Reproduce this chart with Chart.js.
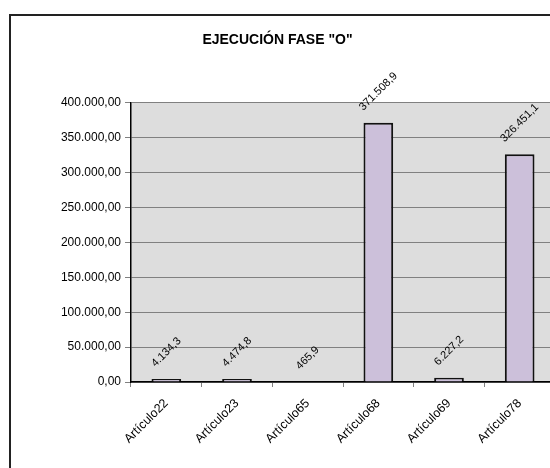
<!DOCTYPE html>
<html>
<head>
<meta charset="utf-8">
<script src="https://cdn.jsdelivr.net/npm/chart.js@4"></script>
<style>
  html, body { margin: 0; padding: 0; background: #fff; overflow: hidden; }
  canvas { display: block; }
</style>
</head>
<body>
<canvas id="chart" width="555" height="468"></canvas>
<script>
// Data
const categories = ['Artículo22', 'Artículo23', 'Artículo65', 'Artículo68', 'Artículo69', 'Artículo78'];
const values = [4134.3, 4474.8, 465.9, 371508.9, 6227.2, 326451.1];
const yMin = 0;
const yMax = 400000;
const yStep = 50000;

const FONT = 'Liberation Sans, Arial, sans-serif';

// 1234567.8 -> "1.234.567,80" style (Spanish grouping)
function formatNumber(v, decimals) {
  const parts = v.toFixed(decimals).split('.');
  const intPart = parts[0].replace(/\B(?=(\d{3})+(?!\d))/g, '.');
  return parts.length > 1 ? intPart + ',' + parts[1] : intPart;
}

// Grey plot background and outer chart frame
const frame = {
  id: 'frame',
  beforeDraw(chart) {
    const ctx = chart.ctx;
    const a = chart.chartArea;
    ctx.save();
    ctx.fillStyle = '#dddddd';
    ctx.fillRect(a.left, a.top, a.right - a.left, a.bottom - a.top);
    ctx.strokeStyle = '#222222';
    ctx.lineWidth = 2;
    ctx.beginPath();
    ctx.moveTo(10, chart.height + 5);
    ctx.lineTo(10, 15);
    ctx.lineTo(chart.width + 5, 15);
    ctx.stroke();
    ctx.restore();
  }
};

// Rotated value labels above each bar
const valueLabels = {
  id: 'valueLabels',
  afterDatasetsDraw(chart) {
    const ctx = chart.ctx;
    const meta = chart.getDatasetMeta(0);
    ctx.save();
    ctx.font = '11px ' + FONT;
    ctx.fillStyle = '#000';
    ctx.textAlign = 'center';
    ctx.textBaseline = 'middle';
    meta.data.forEach((bar, i) => {
      const text = formatNumber(values[i], 1);
      const w = ctx.measureText(text).width;
      const h = 11;
      const cy = bar.y - 10 - (w + h) / 2 * Math.SQRT1_2;
      ctx.save();
      ctx.translate(bar.x, cy);
      ctx.rotate(-Math.PI / 4);
      ctx.fillText(text, 0, 0);
      ctx.restore();
    });
    ctx.restore();
  }
};

new Chart(document.getElementById('chart'), {
  type: 'bar',
  data: {
    labels: categories,
    datasets: [{
      data: values,
      backgroundColor: '#ccc0da',
      borderColor: '#111111',
      borderWidth: 2,
      barPercentage: 0.42,
      categoryPercentage: 1
    }]
  },
  options: {
    responsive: false,
    devicePixelRatio: 1,
    animation: false,
    layout: { padding: 0 },
    plugins: {
      legend: { display: false },
      tooltip: { enabled: false },
      title: {
        display: true,
        text: 'EJECUCIÓN FASE "O"',
        color: '#000',
        font: { family: FONT, size: 14, weight: 'bold' },
        padding: { top: 32, bottom: 54 }
      }
    },
    scales: {
      x: {
        offset: true,
        grid: {
          offset: true,
          drawOnChartArea: false,
          drawTicks: true,
          tickLength: 5,
          tickColor: '#808080'
        },
        border: { color: '#000', width: 1.5 },
        ticks: {
          color: '#000',
          font: { family: FONT, size: 12.5 },
          maxRotation: 45,
          minRotation: 45,
          padding: 9,
          autoSkip: false
        },
        afterFit(scale) { scale.height = 86; }
      },
      y: {
        min: yMin,
        max: yMax,
        grid: {
          color: '#808080',
          lineWidth: 1,
          tickLength: 6,
          tickColor: '#808080'
        },
        border: { color: '#000', width: 1.5 },
        ticks: {
          stepSize: yStep,
          color: '#000',
          padding: 4,
          font: { family: FONT, size: 12 },
          callback: v => formatNumber(v, 2)
        },
        afterFit(scale) { scale.width = 131; }
      }
    }
  },
  plugins: [frame, valueLabels]
});
</script>
</body>
</html>
